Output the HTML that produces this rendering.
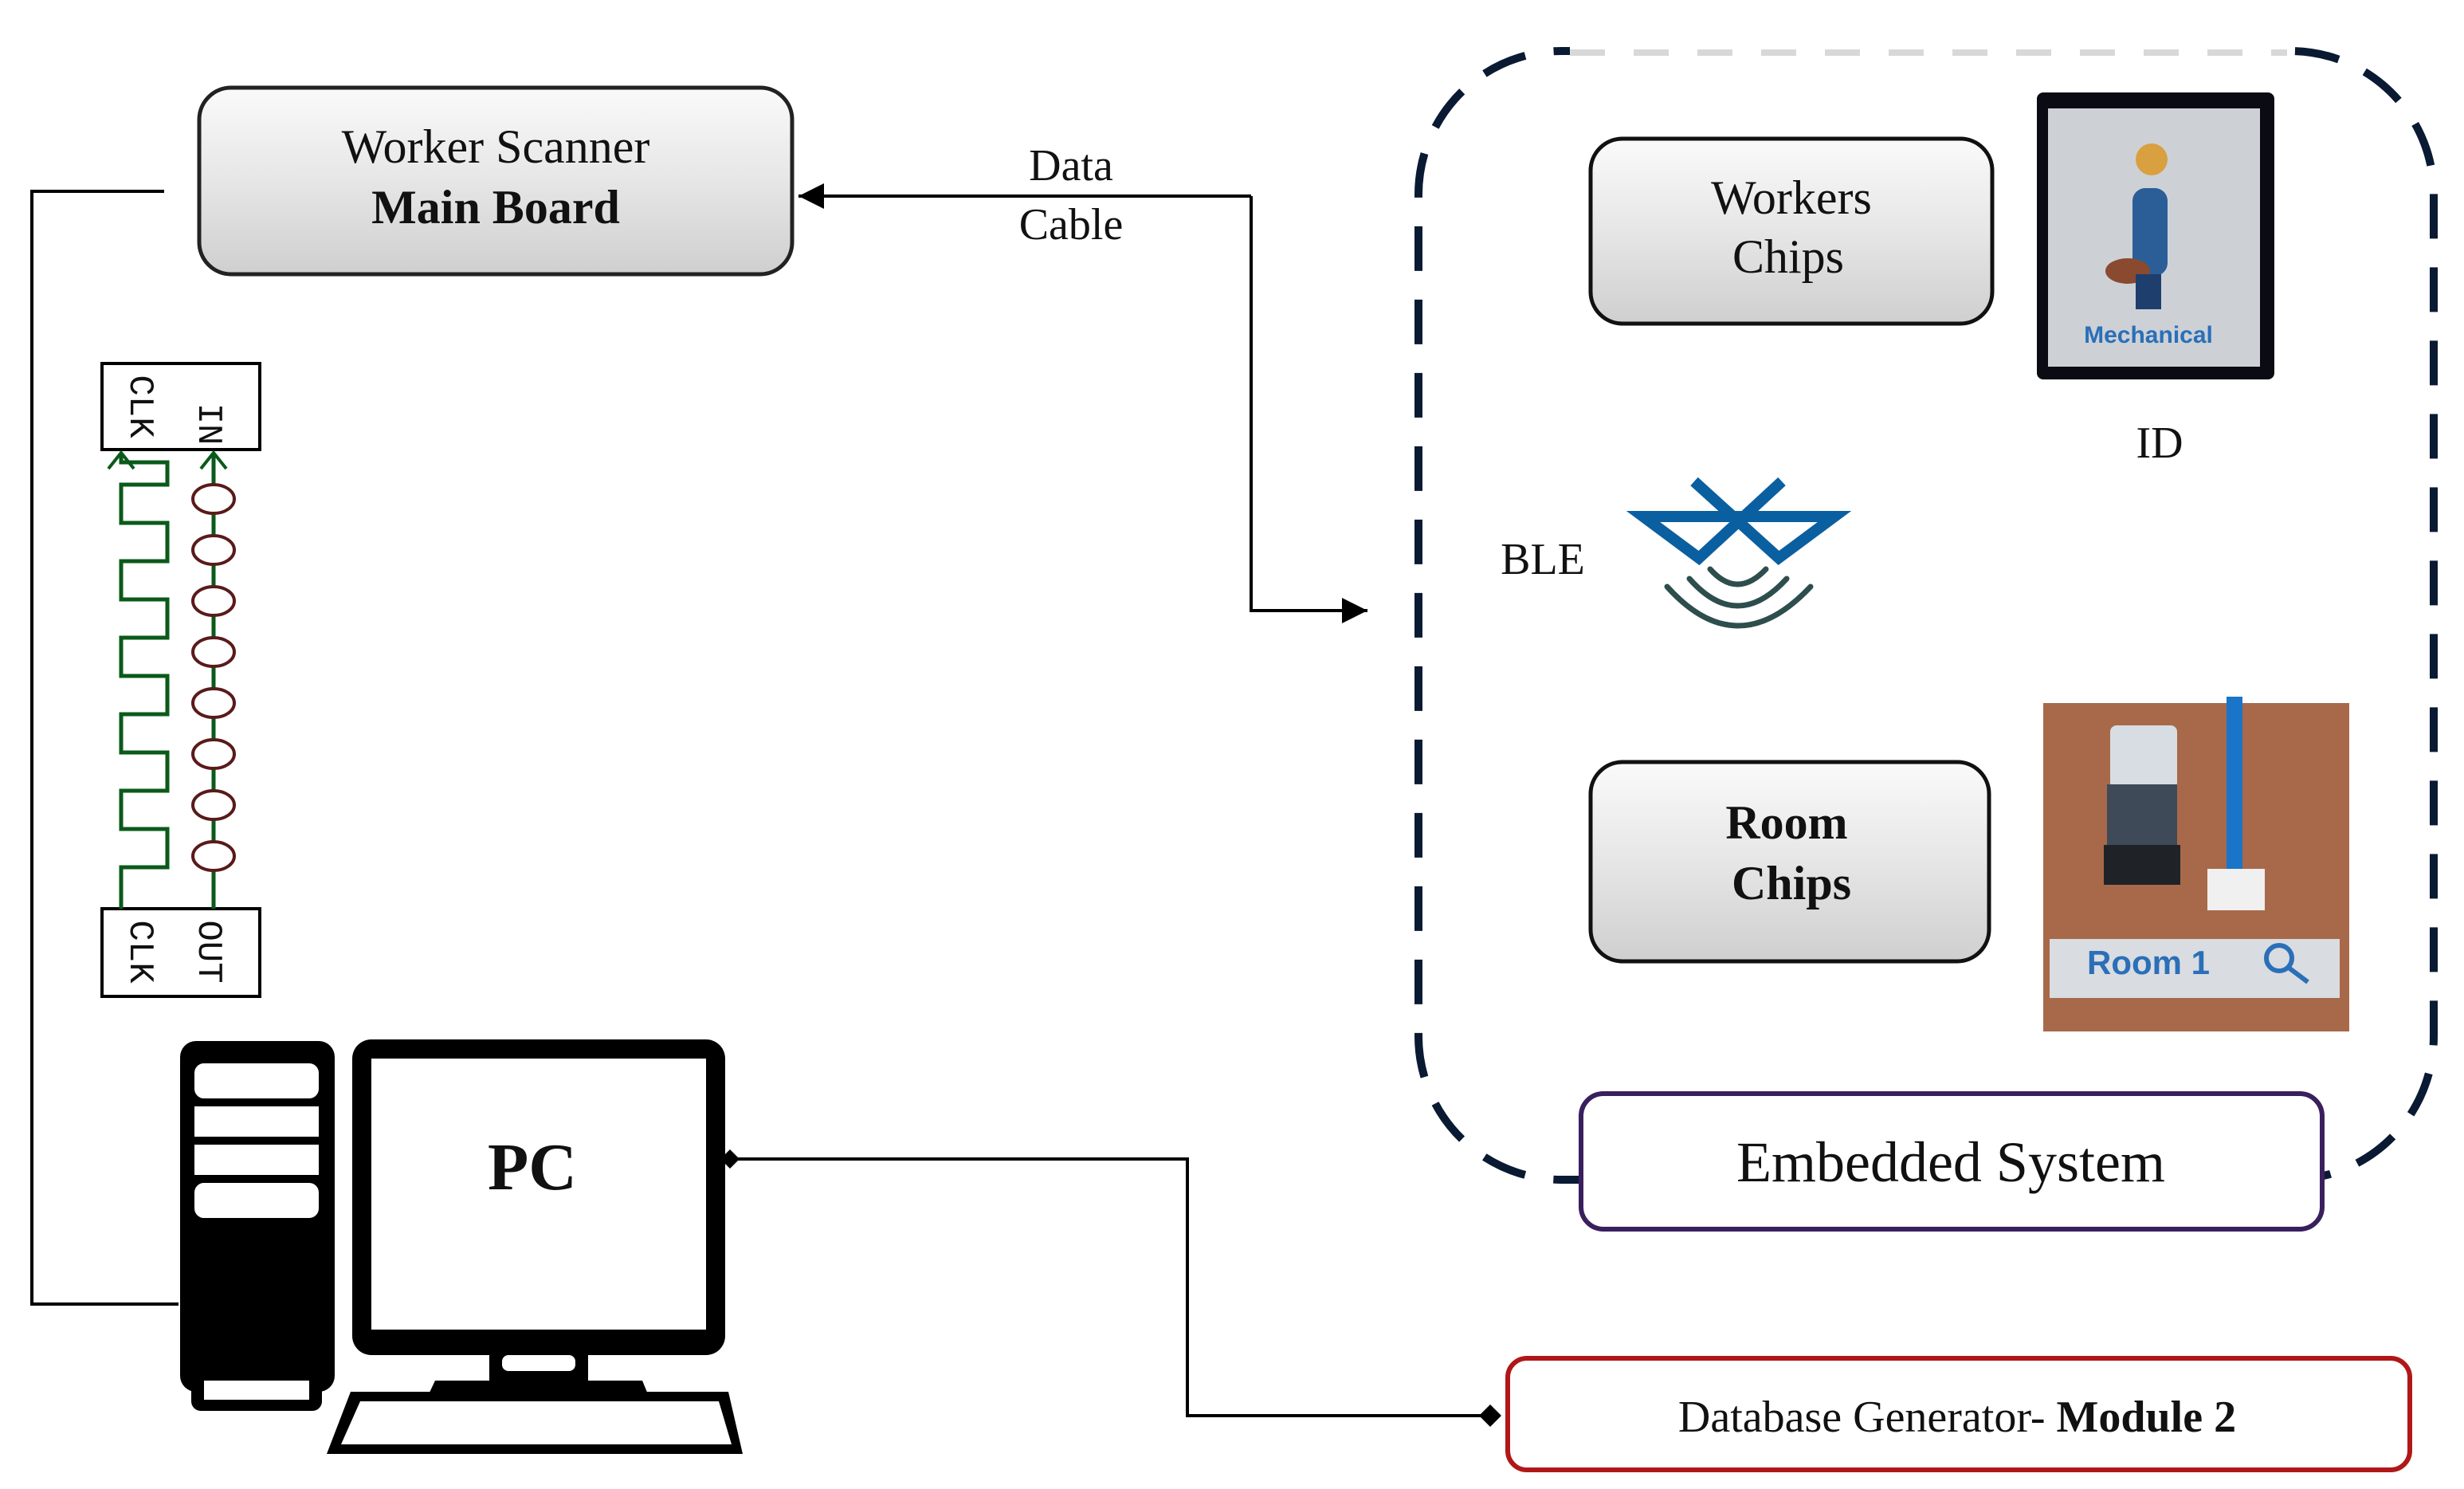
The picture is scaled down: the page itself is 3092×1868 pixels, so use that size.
<!DOCTYPE html>
<html><head><meta charset="utf-8"><style>
html,body{margin:0;padding:0;background:#fff;}
svg{display:block;}
text{font-family:"Liberation Serif",serif;fill:#111;}
</style></head><body>
<svg width="3092" height="1868" viewBox="0 0 1546 934" xmlns="http://www.w3.org/2000/svg">
<defs>
<linearGradient id="g" x1="0" y1="0" x2="0" y2="1">
<stop offset="0" stop-color="#fafafa"/><stop offset="0.5" stop-color="#e6e6e6"/><stop offset="1" stop-color="#cfcfcf"/>
</linearGradient>
<marker id="al" viewBox="0 0 10 10" refX="10" refY="5" markerWidth="8" markerHeight="8" orient="auto-start-reverse"><path d="M0,0 L10,5 L0,10 z" fill="#000"/></marker>
</defs>

<!-- left connector -->
<polyline points="103,120 20,120 20,818 112,818" fill="none" stroke="#000" stroke-width="2"/>

<!-- Worker Scanner -->
<rect x="125" y="55" width="372" height="117" rx="20" fill="url(#g)" stroke="#222" stroke-width="2.5"/>
<text x="311" y="102" font-size="30" text-anchor="middle">Worker Scanner</text>
<text x="311" y="140" font-size="30" font-weight="bold" text-anchor="middle">Main Board</text>

<!-- Data cable -->
<polyline points="785,123 785,383 858,383" fill="none" stroke="#000" stroke-width="2" marker-end="url(#al)"/>
<line x1="785" y1="123" x2="501" y2="123" stroke="#000" stroke-width="2" marker-end="url(#al)"/>
<text x="672" y="113" font-size="28" text-anchor="middle">Data</text>
<text x="672" y="150" font-size="28" text-anchor="middle">Cable</text>

<!-- circuit -->
<rect x="64" y="228" width="99" height="54" fill="#fff" stroke="#000" stroke-width="2"/>
<rect x="64" y="570" width="99" height="55" fill="#fff" stroke="#000" stroke-width="2"/>
<text transform="translate(82,255) rotate(90)" font-family="Liberation Mono" font-size="22" text-anchor="middle" style="font-family:'Liberation Mono',monospace">CLK</text>
<text transform="translate(125,266) rotate(90)" font-size="22" text-anchor="middle" style="font-family:'Liberation Mono',monospace">IN</text>
<text transform="translate(82,597) rotate(90)" font-size="22" text-anchor="middle" style="font-family:'Liberation Mono',monospace">CLK</text>
<text transform="translate(125,597) rotate(90)" font-size="22" text-anchor="middle" style="font-family:'Liberation Mono',monospace">OUT</text>
<polyline fill="none" stroke="#0a5a1a" stroke-width="2.5" points="76,570 76,544 105,544 105,520 76,520 76,496 105,496 105,472 76,472 76,448 105,448 105,424 76,424 76,400 105,400 105,376 76,376 76,352 105,352 105,328 76,328 76,304 105,304 105,290 76,290 76,284"/>
<polyline fill="none" stroke="#0a5a1a" stroke-width="2" points="68,294 76,284 84,294"/>
<line x1="134" y1="570" x2="134" y2="284" stroke="#0a5a1a" stroke-width="2.5"/>
<polyline fill="none" stroke="#0a5a1a" stroke-width="2" points="126,294 134,284 142,294"/>
<g fill="#fff" stroke="#5a1a1a" stroke-width="2">
<ellipse cx="134" cy="313" rx="13" ry="9"/><ellipse cx="134" cy="345" rx="13" ry="9"/><ellipse cx="134" cy="377" rx="13" ry="9"/><ellipse cx="134" cy="409" rx="13" ry="9"/><ellipse cx="134" cy="441" rx="13" ry="9"/><ellipse cx="134" cy="473" rx="13" ry="9"/><ellipse cx="134" cy="505" rx="13" ry="9"/><ellipse cx="134" cy="537" rx="13" ry="9"/>
</g>

<!-- PC -->
<rect x="113" y="653" width="97" height="220" rx="10" fill="#000"/>
<rect x="122" y="667" width="78" height="22" rx="6" fill="#fff"/>
<rect x="122" y="694" width="78" height="19" fill="#fff"/>
<rect x="122" y="718" width="78" height="19" fill="#fff"/>
<rect x="122" y="742" width="78" height="22" rx="6" fill="#fff"/>
<rect x="120" y="861" width="82" height="24" rx="6" fill="#000"/>
<rect x="128" y="866" width="66" height="12" fill="#fff"/>
<rect x="221" y="652" width="234" height="198" rx="12" fill="#000"/>
<rect x="233" y="664" width="210" height="170" fill="#fff"/>
<text x="334" y="746" font-size="42" font-weight="bold" text-anchor="middle">PC</text>
<rect x="307" y="845" width="62" height="25" fill="#000"/>
<rect x="315" y="850" width="46" height="10" rx="4" fill="#fff"/>
<polygon points="273,866 403,866 410,883 265,883" fill="#000"/>
<polygon points="220,873 457,873 466,912 205,912" fill="#000"/>
<polygon points="226,879 451,879 459,906 214,906" fill="#fff"/>

<!-- PC to DB connector -->
<polyline points="455,727 745,727 745,888 936,888" fill="none" stroke="#000" stroke-width="2"/>
<polygon points="452,727 458,721 464,727 458,733" fill="#000"/>
<polygon points="928,888 935,881 942,888 935,895" fill="#000"/>

<!-- DB box -->
<rect x="946" y="852" width="566" height="70" rx="12" fill="#fff" stroke="#b01818" stroke-width="3"/>
<text x="1228" y="898" font-size="28" text-anchor="middle">Database Generator- <tspan font-weight="bold">Module 2</tspan></text>

<!-- Dashed embedded container -->
<path d="M980,32 L1437,32 A90,90 0 0 1 1527,122 L1527,650 A90,90 0 0 1 1437,740 L980,740 A90,90 0 0 1 890,650 L890,122 A90,90 0 0 1 980,32 Z" fill="none" stroke="#0a1a33" stroke-width="5" stroke-dasharray="28,18"/>
<line x1="985" y1="33" x2="1435" y2="33" stroke="#fff" stroke-width="8"/>
<line x1="985" y1="33" x2="1435" y2="33" stroke="#d8d8d8" stroke-width="4" stroke-dasharray="22,18"/>

<!-- Workers Chips -->
<rect x="998" y="87" width="252" height="116" rx="20" fill="url(#g)" stroke="#111" stroke-width="2.5"/>
<text x="1124" y="134" font-size="30" text-anchor="middle">Workers</text>
<text x="1122" y="171" font-size="30" text-anchor="middle">Chips</text>

<!-- ID card -->
<rect x="1278" y="58" width="149" height="180" rx="4" fill="#0b0b14"/>
<rect x="1285" y="68" width="133" height="162" fill="#cdd1d6"/>
<circle cx="1350" cy="100" r="10" fill="#d9a040"/>
<rect x="1338" y="118" width="22" height="55" rx="8" fill="#2b5e96"/>
<ellipse cx="1335" cy="170" rx="14" ry="8" fill="#8a4a30"/>
<rect x="1340" y="172" width="16" height="22" fill="#1e3e6e"/>
<text x="1348" y="215" font-size="15" font-weight="bold" text-anchor="middle" style="font-family:'Liberation Sans',sans-serif;fill:#2a6fb8">Mechanical</text>
<text x="1355" y="287" font-size="28" text-anchor="middle">ID</text>

<!-- BLE -->
<text x="968" y="360" font-size="28" text-anchor="middle">BLE</text>
<polyline points="1063,302 1116,350 1151,324 1031,324 1066,350 1118,302" fill="none" stroke="#0a5fa0" stroke-width="7" stroke-linejoin="miter"/>
<g fill="none" stroke="#2e4e4e" stroke-width="3.5" stroke-linecap="round">
<path d="M1073,357 Q1090,376 1108,357"/>
<path d="M1060,363 Q1090,397 1121,363"/>
<path d="M1046,368 Q1090,417 1136,368"/>
</g>

<!-- Room Chips -->
<rect x="998" y="478" width="250" height="125" rx="20" fill="url(#g)" stroke="#111" stroke-width="2.5"/>
<text x="1121" y="526" font-size="30" font-weight="bold" text-anchor="middle">Room</text>
<text x="1124" y="564" font-size="30" font-weight="bold" text-anchor="middle">Chips</text>

<!-- Room image -->
<rect x="1282" y="441" width="192" height="206" fill="#a8694a"/>
<rect x="1324" y="455" width="42" height="40" rx="4" fill="#d8dde3"/>
<rect x="1322" y="492" width="44" height="38" fill="#3e4a58"/>
<rect x="1320" y="530" width="48" height="25" fill="#1f2328"/>
<rect x="1397" y="437" width="10" height="112" fill="#1a74c8"/>
<rect x="1385" y="545" width="36" height="26" fill="#f0f0f0"/>
<rect x="1286" y="589" width="182" height="37" fill="#d9dce0"/>
<text x="1348" y="611" font-size="21" font-weight="bold" text-anchor="middle" style="font-family:'Liberation Sans',sans-serif;fill:#2a6fb8">Room 1</text>
<circle cx="1430" cy="601" r="8" fill="none" stroke="#2a6fb8" stroke-width="3"/>
<line x1="1436" y1="607" x2="1448" y2="616" stroke="#2a6fb8" stroke-width="3"/>

<!-- Embedded System -->
<rect x="992" y="686" width="465" height="85" rx="14" fill="#fff" stroke="#3a1f5e" stroke-width="3"/>
<text x="1224" y="741" font-size="36" text-anchor="middle">Embedded System</text>
</svg>
</body></html>
